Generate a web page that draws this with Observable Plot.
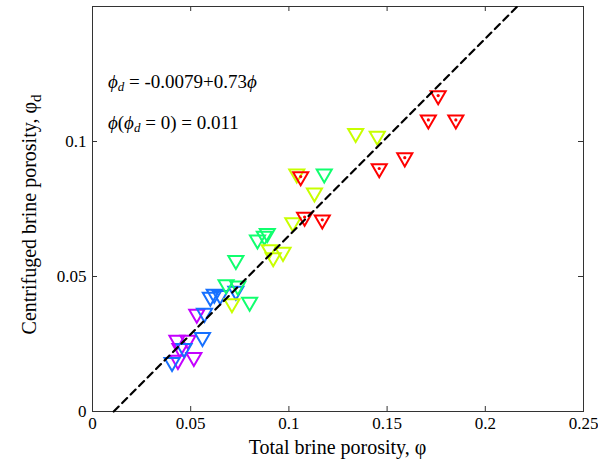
<!DOCTYPE html>
<html><head><meta charset="utf-8">
<script src="https://cdn.jsdelivr.net/npm/d3@7"></script>
<script src="https://cdn.jsdelivr.net/npm/@observablehq/plot@0.6"></script>
<style>
body{margin:0;background:#fff}
svg{display:block}
svg text, svg tspan{font-family:'Liberation Serif','Times New Roman',serif !important;}
</style>
</head><body><div id="chart"></div>
<script>
// Data (total porosity phi, centrifuged porosity phi_d)
const redX = [0.176, 0.171, 0.185, 0.159, 0.146, 0.106, 0.108, 0.117];
const redY = [0.117, 0.108, 0.108, 0.094, 0.090, 0.087, 0.072, 0.071];
const yellowX = [0.134, 0.145, 0.104, 0.113, 0.102, 0.090, 0.092, 0.097, 0.071];
const yellowY = [0.103, 0.102, 0.088, 0.081, 0.070, 0.060, 0.057, 0.059, 0.040];
const greenX = [0.118, 0.089, 0.0875, 0.084, 0.073, 0.068, 0.074, 0.080];
const greenY = [0.088, 0.066, 0.065, 0.0636, 0.056, 0.047, 0.0465, 0.0405];
const blueX = [0.073, 0.060, 0.062, 0.065, 0.057, 0.056, 0.0466, 0.0405];
const blueY = [0.0446, 0.0424, 0.0435, 0.043, 0.0364, 0.0275, 0.0234, 0.0182];
const magentaX = [0.0531, 0.043, 0.0486, 0.0445, 0.0516, 0.0435];
const magentaY = [0.0361, 0.0264, 0.0264, 0.0234, 0.0201, 0.019];

const groupNames = ["group1", "group2", "group3", "group4", "group5"];
const groupColors = ["#c400ff", "#1670ff", "#10ff6e", "#c8ff00", "#ff0000"];

const xTicks = [0, 0.05, 0.1, 0.15, 0.2, 0.25];
const yTicks = [0, 0.05, 0.1];

// fit: phi_d = a + b*phi
const fitA = -0.0079, fitB = 0.73;
const fitX = [0.0108, 0.2163];

const series = {group1: [magentaX, magentaY], group2: [blueX, blueY], group3: [greenX, greenY], group4: [yellowX, yellowY], group5: [redX, redY]};
const points = [];
for (const g of groupNames) {
  const [xs, ys] = series[g];
  xs.forEach((x, i) => points.push({g, x, y: ys[i]}));
}
const fitLine = fitX.map(x => ({x, y: fitA + fitB * x}));

const W = 598, H = 464, mL = 92, mR = 15, mT = 6, mB = 53;
const pw = W - mL - mR, ph = H - mT - mB;

const plot = Plot.plot({
  width: W, height: H,
  marginLeft: mL, marginRight: mR, marginTop: mT, marginBottom: mB,
  style: {fontFamily: "'Liberation Serif', 'Times New Roman', serif", fontSize: "17px", background: "#fff", color: "#000"},
  x: {domain: [0, 0.25]},
  y: {domain: [0, 0.15]},
  color: {domain: groupNames, range: groupColors},
  marks: [
    Plot.axisX(xTicks, {tickSize: 0, tickPadding: 5, tickFormat: d => String(d), label: null, fontSize: 17}),
    Plot.axisY(yTicks, {tickSize: 0, tickPadding: 6, tickFormat: d => String(d), label: null, fontSize: 17}),
    Plot.tickX(xTicks, {x: d => d, insetTop: ph - 5, stroke: "#333"}),
    Plot.tickX(xTicks, {x: d => d, insetBottom: ph - 5, stroke: "#333"}),
    Plot.tickY(yTicks, {y: d => d, insetRight: pw - 5, stroke: "#333"}),
    Plot.tickY(yTicks, {y: d => d, insetLeft: pw - 5, stroke: "#333"}),
    Plot.frame({stroke: "#333"}),
    Plot.dot(points, {x: "x", y: "y", stroke: "g", symbol: "triangle", rotate: 180, r: 5.6, strokeWidth: 2, fill: "none"}),
    Plot.dot(points.filter(d => d.g === "group5"), {x: "x", y: "y", fill: "g", r: 1.6, stroke: "none"}),
    Plot.line(fitLine, {x: "x", y: "y", stroke: "#000", strokeWidth: 2.2, strokeDasharray: "7,5"})
  ]
});
document.getElementById("chart").append(plot);

const svg = d3.select(plot);
const sx = plot.scale("x"), sy = plot.scale("y");
const serif = "'Liberation Serif', 'Times New Roman', serif";

// Axis titles
svg.append("text")
  .attr("x", mL + pw / 2).attr("y", 454)
  .attr("text-anchor", "middle").attr("font-family", serif).attr("font-size", 20)
  .text("Total brine porosity, φ");
const yl = svg.append("text")
  .attr("transform", `translate(36,${mT + ph / 2 + 6}) rotate(-90)`)
  .attr("text-anchor", "middle").attr("font-family", serif).attr("font-size", 20);
yl.append("tspan").text("Centrifuged brine porosity, φ");
yl.append("tspan").attr("font-size", 15).attr("dy", 5).text("d");

// Annotations
const annX = 0.0081;
const t1 = svg.append("text").attr("x", sx.apply(annX)).attr("y", sy.apply(0.1195))
  .attr("text-anchor", "start").attr("font-family", serif).attr("font-size", 19);
t1.append("tspan").attr("font-style", "italic").text("ϕ");
t1.append("tspan").attr("font-style", "italic").attr("font-size", 13).attr("dy", 3).text("d");
t1.append("tspan").attr("dy", -3).text(" = -0.0079+0.73");
t1.append("tspan").attr("font-style", "italic").text("ϕ");

const t2 = svg.append("text").attr("x", sx.apply(annX)).attr("y", sy.apply(0.1045))
  .attr("text-anchor", "start").attr("font-family", serif).attr("font-size", 19);
t2.append("tspan").attr("font-style", "italic").text("ϕ");
t2.append("tspan").text("(");
t2.append("tspan").attr("font-style", "italic").text("ϕ");
t2.append("tspan").attr("font-style", "italic").attr("font-size", 13).attr("dy", 3).text("d");
t2.append("tspan").attr("dy", -3).text(" = 0) = 0.011");
</script>
</body></html>
